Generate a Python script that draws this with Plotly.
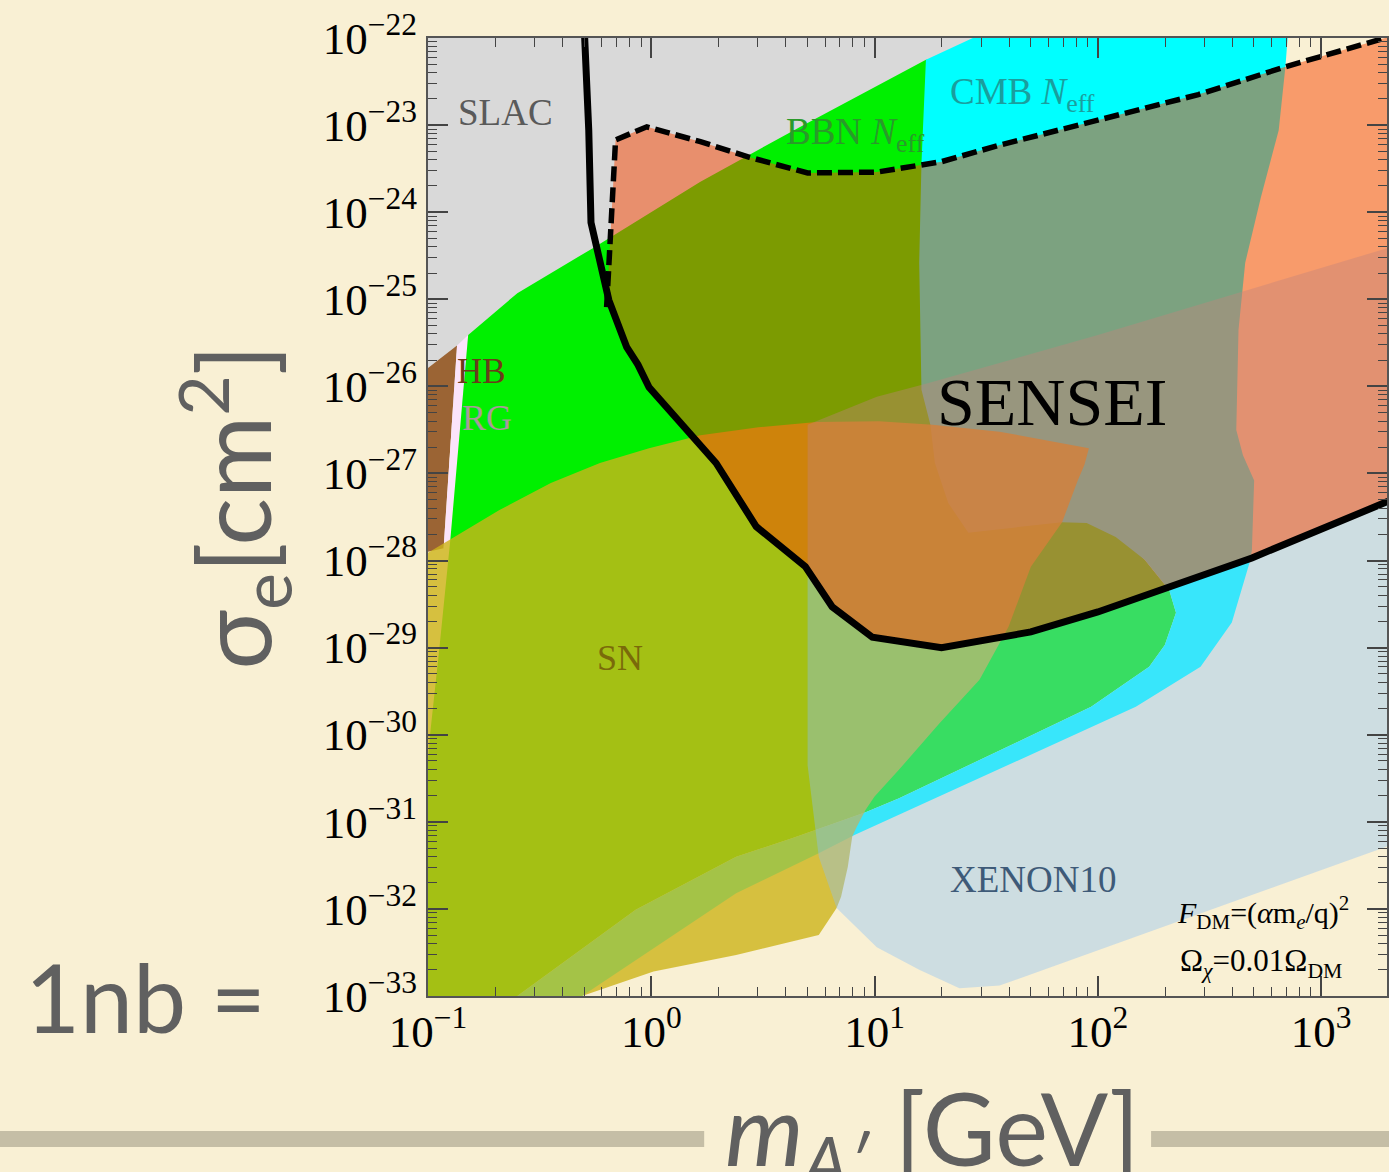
import plotly.graph_objects as go

# ---------------- data (log10 m [GeV], log10 sigma_e [cm^2]) ----------------
slac_lm = [-1.0, 1.6, 1.6, -0.5, -1.0]
slac_ls = [-22.0, -22.0, -24.5, -26.2, -26.2]

hb_lm = [-1.0, -0.87, -0.93, -1.0]
hb_ls = [-25.79, -25.53, -27.86, -27.90]

rg_lm = [-0.87, -0.82, -0.90, -0.93]
rg_ls = [-25.53, -25.41, -27.76, -27.86]

bbn_lm = [-0.82, -0.60, -0.26, 0.22, 0.66, 1.23, 1.29, 1.29, 2.00, 2.21, 2.32, 2.35, 2.30,
          2.23, 1.97, 1.11, 0.96, 0.63, 0.38, -0.07, -0.60, -1.0, -1.0, -0.99, -0.95, -0.90]
bbn_ls = [-25.41, -24.93, -24.41, -23.65, -23.03, -22.25, -22.25, -26.16, -27.48, -27.99, -28.34,
          -28.60, -28.97, -29.22, -29.68, -30.73, -30.89, -31.19, -31.40, -32.01, -33.0, -33.0,
          -30.29, -29.98, -29.03, -27.76]

cmb_lm = [1.44, 2.85, 2.84, 2.81, 2.73, 2.66, 2.63, 2.62, 2.65, 2.70, 2.69, 2.68, 2.60, 2.46,
          2.17, 1.45, 1.20, 0.91, 0.75, 0.38, -0.31, -0.60, -0.07, 0.38, 0.63, 0.96, 1.11, 1.97,
          2.23, 2.30, 2.35, 2.32, 2.21, 2.08, 1.95, 1.84, 1.42, 1.33, 1.27, 1.25, 1.21, 1.20,
          1.21, 1.23]
cmb_ls = [-22.0, -22.0, -22.33, -23.06, -23.83, -24.58, -25.35, -26.50, -26.79, -27.08, -27.88,
          -28.02, -28.71, -29.22, -29.68, -30.52, -30.81, -31.15, -31.36, -31.82, -33.0, -33.0,
          -32.01, -31.40, -31.19, -30.89, -30.73, -29.68, -29.22, -28.97, -28.60, -28.34, -27.99,
          -27.73, -27.57, -27.56, -27.68, -27.34, -26.88, -26.44, -26.04, -24.58, -23.44, -22.25]

sn_lm = [-1.0, -0.90, -0.68, -0.45, -0.23, -0.01, 0.22, 0.48, 0.74, 1.02, 1.26, 1.56, 1.78,
         1.96, 1.94, 1.91, 1.84, 1.70, 1.60, 1.47, 1.29, 1.11, 1.00, 0.96, 0.92, 0.90, 0.88,
         0.85, 0.83, 0.75, 0.38, 0.01, -0.31, -1.0]
sn_ls = [-27.91, -27.76, -27.42, -27.11, -26.88, -26.71, -26.56, -26.47, -26.41, -26.40, -26.44,
         -26.52, -26.62, -26.71, -26.90, -27.08, -27.56, -28.07, -28.76, -29.37, -29.87, -30.40,
         -30.71, -30.86, -31.06, -31.17, -31.52, -31.86, -31.99, -32.30, -32.53, -32.72, -33.0,
         -33.0]

xen_lm = [0.70, 1.01, 1.23, 2.00, 3.30, 3.30, 1.56, 1.38, 1.20, 1.01, 0.83, 0.75, 0.70]
xen_ls = [-26.44, -26.12, -25.97, -25.41, -24.41, -31.28, -32.88, -32.91, -32.70, -32.44,
          -31.99, -31.40, -30.35]

# dashed curve (upper edge of the shaded region)
dash_lm = [-0.20, -0.18, -0.16, -0.02, 0.22, 0.44, 0.70, 1.01, 1.30, 1.56, 2.00, 2.45, 2.84, 3.30]
dash_ls = [-25.09, -24.20, -23.17, -23.02, -23.19, -23.37, -23.55, -23.54, -23.42, -23.23,
           -22.94, -22.65, -22.33, -21.99]

# solid SENSEI curve
sol_lm = [-0.30, -0.29, -0.28, -0.27, -0.22, -0.19, -0.11, -0.06, -0.01, 0.17, 0.29, 0.47,
          0.69, 0.81, 0.99, 1.30, 1.70, 2.00, 2.33, 2.69, 3.30]
sol_ls = [-21.90, -22.45, -23.06, -24.12, -24.70, -25.01, -25.55, -25.75, -26.01, -26.53,
          -26.88, -27.61, -28.07, -28.53, -28.88, -29.00, -28.82, -28.59, -28.30, -27.97, -27.32]

x_tick_exp = [-1, 0, 1, 2, 3]
y_tick_exp = list(range(-33, -21))

# ---------------- figure ----------------
BG = "#f9f0d4"
SERIF = "Liberation Serif"
SANS = "Lato"


def pw(v):
    return [10 ** a for a in v]


fig = go.Figure()


def region(lm, ls, color):
    fig.add_trace(go.Scatter(x=pw(lm), y=pw(ls), fill="toself", fillcolor=color,
                             mode="lines", line=dict(width=0, color=color),
                             hoverinfo="skip", showlegend=False))


region(slac_lm, slac_ls, "#d9d9d9")
region(hb_lm, hb_ls, "#9b6434")
region(rg_lm, rg_ls, "#fbe4fb")
region(bbn_lm, bbn_ls, "rgb(0,240,0)")
region(cmb_lm, cmb_ls, "rgb(0,255,255)")
region(sn_lm, sn_ls, "rgba(205,180,25,0.8)")
region(xen_lm, xen_ls, "rgba(140,192,245,0.4)")

red_lm = dash_lm + sol_lm[5:][::-1]
red_ls = dash_ls + sol_ls[5:][::-1]
region(red_lm, red_ls, "rgba(248,70,2,0.5)")

fig.add_trace(go.Scatter(x=pw(sol_lm), y=pw(sol_ls), mode="lines",
                         line=dict(color="black", width=7), hoverinfo="skip", showlegend=False))
fig.add_trace(go.Scatter(x=pw(dash_lm), y=pw(dash_ls), mode="lines",
                         line=dict(color="black", width=5.5, dash="15px,6px"),
                         hoverinfo="skip", showlegend=False))


def pow_label(e):
    s = str(e).replace("-", "\u2212")
    return "10<sup>" + s + "</sup>"


minor_x = [k * 10 ** n for n in range(-1, 4) for k in range(2, 10)]
minor_y = [k * 10 ** n for n in range(-33, -22) for k in range(2, 10)]

axis_common = dict(type="log", showgrid=False, zeroline=False, showline=True,
                   linecolor="#555555", linewidth=2, mirror="allticks",
                   ticks="inside", ticklen=20, tickwidth=1.5, tickcolor="#444444",
                   tickfont=dict(family=SERIF, size=45, color="black"))

fig.update_xaxes(range=[-1, 3.295], tickmode="array",
                 tickvals=[10 ** e for e in x_tick_exp],
                 ticktext=[pow_label(e) for e in x_tick_exp],
                 ticklabelstandoff=-5,
                 minor=dict(tickmode="array", tickvals=minor_x, ticks="inside", ticklen=9,
                            tickwidth=1.2, tickcolor="#444444", showgrid=False),
                 **axis_common)
fig.update_yaxes(range=[-33, -22], tickmode="array",
                 tickvals=[10 ** e for e in y_tick_exp],
                 ticktext=[pow_label(e) for e in y_tick_exp],
                 minor=dict(tickmode="array", tickvals=minor_y, ticks="inside", ticklen=9,
                            tickwidth=1.2, tickcolor="#444444", showgrid=False),
                 **axis_common)

ann = []


def label(text, lx, ly, size, color, family=SERIF):
    ann.append(dict(text=text, x=lx, y=ly, xref="x", yref="y", showarrow=False,
                    xanchor="center", yanchor="middle",
                    font=dict(family=family, size=size, color=color)))


label("SLAC", -0.651, -22.85, 37, "#5a5a5a")
label("BBN <i>N</i><sub>eff</sub>", 0.913, -23.11, 37, "#2a9a2a")
label("CMB <i>N</i><sub>eff</sub>", 1.664, -22.65, 37, "#1a9e9e")
label("HB", -0.759, -25.835, 35, "#6b3b1b")
label("RG", -0.736, -26.363, 36, "#a89a9a")
label("SENSEI", 1.793, -26.18, 68, "black")
label("SN", -0.142, -29.12, 36, "#7a6a0a")
label("XENON10", 1.708, -31.668, 37, "#3e5a78")
label("<i>F</i><sub>DM</sub>=(<i>α</i>m<sub><i>e</i></sub>/q)<sup>2</sup>", 2.74, -32.04, 30, "black")
label("Ω<sub><i>χ</i></sub>=0.01Ω<sub>DM</sub>", 2.73, -32.62, 31, "black")


def deco(text, px, py, size, angle=0):
    ann.append(dict(text=text, x=px, y=py, xref="paper", yref="paper", showarrow=False,
                    xanchor="center", yanchor="middle", textangle=angle,
                    font=dict(family=SANS, size=size, color="#606060")))


deco("σ<sub>e</sub>[cm<sup>2</sup>]", -0.203, 0.51, 100, -90)
deco("1nb =", -0.2945, 0.0, 95)
deco("<i>m</i><sub><i>A′</i></sub> [GeV]", 0.5265, -0.145, 100)

shapes = [
    dict(type="rect", xref="paper", yref="paper", x0=-0.5, x1=0.288, y0=-0.1576, y1=-0.1409,
         fillcolor="#c5bea6", line=dict(width=0), layer="below"),
    dict(type="rect", xref="paper", yref="paper", x0=0.754, x1=1.05, y0=-0.1576, y1=-0.1409,
         fillcolor="#c5bea6", line=dict(width=0), layer="below"),
]

fig.update_layout(width=1389, height=1172, paper_bgcolor=BG, plot_bgcolor=BG,
                  margin=dict(l=428, r=0, t=38, b=176), annotations=ann, shapes=shapes,
                  showlegend=False)

fig.write_html("out.html", config={"displayModeBar": False},
               post_script="document.body.style.margin='0';document.body.style.overflow='hidden';"
                           "document.body.style.background='" + BG + "';")
